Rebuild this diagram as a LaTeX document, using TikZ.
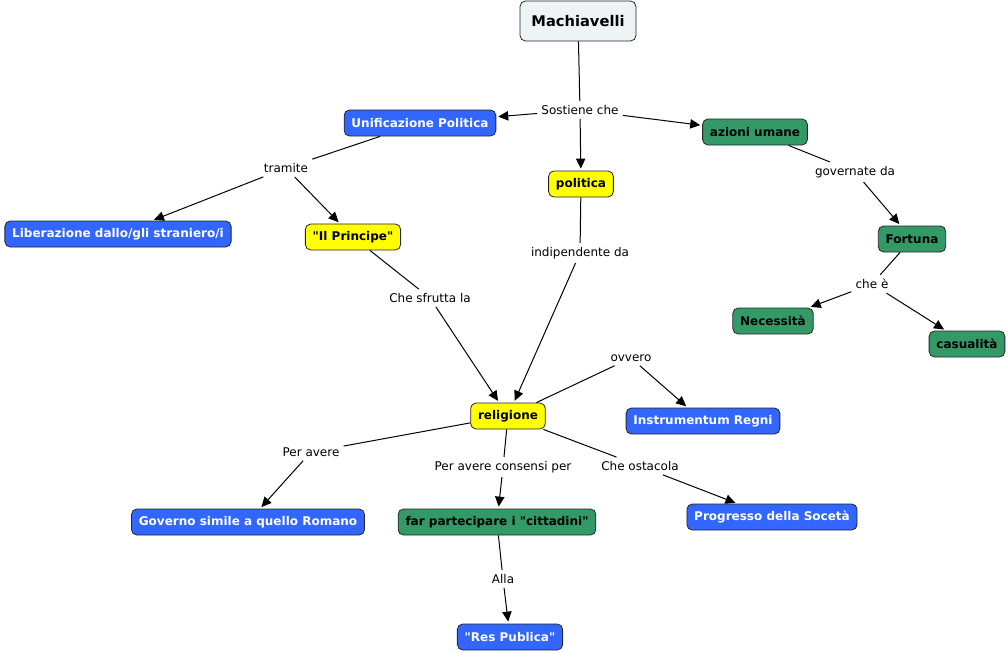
\documentclass[tikz,border=0pt]{standalone}
\usepackage{fontspec}
\setmainfont{DejaVu Sans}[Ligatures=TeXOff]
\usetikzlibrary{arrows.meta}
\definecolor{conceptblue}{HTML}{3366FF}
\definecolor{conceptgreen}{HTML}{339966}
\definecolor{conceptyellow}{HTML}{FFFF00}
\definecolor{rootfill}{HTML}{EEF3F5}
\tikzset{
  concept/.style={draw=black!85, line width=0.6pt, rounded corners=4pt, inner xsep=5.5pt, minimum height=19.5pt, font=\fontsize{9}{11}\selectfont\bfseries},
  bluebox/.style={concept, fill=conceptblue, text=white},
  greenbox/.style={concept, fill=conceptgreen},
  yellowbox/.style={concept, fill=conceptyellow},
  rootbox/.style={concept, fill=rootfill, inner xsep=8.5pt, minimum height=30pt, font=\fontsize{11}{13}\selectfont\bfseries},
  linklabel/.style={inner sep=3pt, font=\fontsize{9}{11}\selectfont},
  link/.style={line width=0.75pt},
  linkarrow/.style={line width=0.75pt, -{Triangle[length=7.5pt,width=7pt]}, shorten >=1.5pt},
}
\begin{document}
\begin{tikzpicture}[x=0.75pt, y=-0.75pt]
  %%%%% START %%%%%
  \useasboundingbox (0, 0) rectangle (1008, 653);

  % concepts
  \node[rootbox] (machiavelli) at (578, 21) {Machiavelli};
  \node[bluebox] (unificazione) at (420, 123) {Unificazione Politica};
  \node[greenbox] (azioni) at (755, 132) {azioni umane};
  \node[yellowbox] (politica) at (581, 184) {politica};
  \node[bluebox] (liberazione) at (118, 234) {Liberazione dallo/gli straniero/i};
  \node[yellowbox] (principe) at (353, 237) {"Il Principe"};
  \node[greenbox] (fortuna) at (912, 239) {Fortuna};
  \node[greenbox] (necessita) at (773, 321) {Necessità};
  \node[greenbox] (casualita) at (967, 344) {casualità};
  \node[yellowbox] (religione) at (508, 416) {religione};
  \node[bluebox] (instrumentum) at (703, 421) {Instrumentum Regni};
  \node[bluebox] (governo) at (248, 522) {Governo simile a quello Romano};
  \node[greenbox] (partecipare) at (497, 522) {far partecipare i "cittadini"};
  \node[bluebox] (progresso) at (772, 517) {Progresso della Socetà};
  \node[bluebox] (respublica) at (510, 637) {"Res Publica"};

  % link phrases
  \node[linklabel] (sostiene) at (580, 110) {Sostiene che};
  \node[linklabel] (tramite) at (286, 168) {tramite};
  \node[linklabel] (governate) at (855, 172) {governate da};
  \node[linklabel] (indipendente) at (580, 253) {indipendente da};
  \node[linklabel] (sfrutta) at (430, 298) {Che sfrutta la};
  \node[linklabel] (chee) at (872, 284) {che è};
  \node[linklabel] (ovvero) at (631, 358) {ovvero};
  \node[linklabel] (peravere) at (311, 452) {Per avere};
  \node[linklabel] (consensi) at (503, 467) {Per avere consensi per};
  \node[linklabel] (ostacola) at (640, 466) {Che ostacola};
  \node[linklabel] (alla) at (503, 579) {Alla};

  % connectors
  \draw[link] (machiavelli) -- (sostiene);
  \draw[linkarrow] (sostiene) -- (unificazione);
  \draw[linkarrow] (sostiene) -- (politica);
  \draw[linkarrow] (sostiene) -- (azioni);

  \draw[link] (unificazione) -- (tramite);
  \draw[linkarrow] (tramite) -- (liberazione);
  \draw[linkarrow] (tramite) -- (principe);

  \draw[link] (azioni) -- (governate);
  \draw[linkarrow] (governate) -- (fortuna);

  \draw[link] (fortuna) -- (chee);
  \draw[linkarrow] (chee) -- (necessita);
  \draw[linkarrow] (chee) -- (casualita);

  \draw[link] (politica) -- (indipendente);
  \draw[linkarrow] (indipendente) -- (religione);

  \draw[link] (principe) -- (sfrutta);
  \draw[linkarrow] (sfrutta) -- (religione);

  \draw[link] (religione) -- (ovvero);
  \draw[linkarrow] (ovvero) -- (instrumentum);

  \draw[link] (religione) -- (peravere);
  \draw[linkarrow] (peravere) -- (governo);

  \draw[link] (religione) -- (consensi);
  \draw[linkarrow] (consensi) -- (partecipare);

  \draw[link] (religione) -- (ostacola);
  \draw[linkarrow] (ostacola) -- (progresso);

  \draw[link] (partecipare) -- (alla);
  \draw[linkarrow] (alla) -- (respublica);
  %%%%% END %%%%%
\end{tikzpicture}
\end{document}
